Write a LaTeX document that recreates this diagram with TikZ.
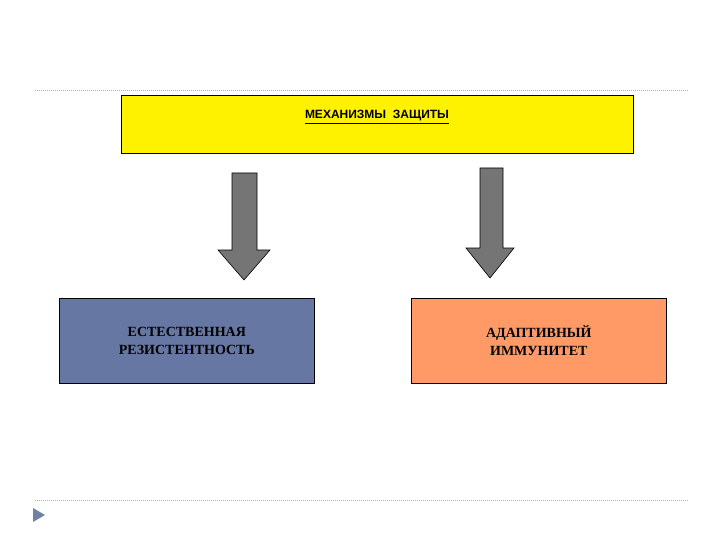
\documentclass[tikz,border=0pt]{standalone}
\usepackage{fontspec}
\setmainfont{Liberation Serif}
\newfontfamily\arialf{Liberation Sans}
\begin{document}
\begin{tikzpicture}[x=1pt,y=-1pt,
  box/.style={draw=black,line width=0.6pt,minimum height=58pt,inner sep=0pt},
  arr/.style={draw=black,fill=gray!80!black!90,line width=0.6pt},
  sep/.style={draw=gray!60,dash pattern=on 1pt off 1pt,line width=0.6pt}]
\useasboundingbox (0,0) rectangle (720,540);
\coordinate (l1a) at (35,90); \coordinate (l1b) at (688,90);
\coordinate (l2a) at (35,500); \coordinate (l2b) at (688,500);
\draw[sep] (l1a) -- (l1b);
\draw[sep] (l2a) -- (l2b);
\fill[fill={rgb,255:red,110;green,130;blue,165}] (33,508) -- (45,515) -- (33,522) -- cycle;
\node[box,fill=yellow,minimum width=512pt,minimum height=58pt,anchor=north west] (top) at (121,95) {};
\node[font=\arialf\bfseries\fontsize{12}{14}\selectfont,inner sep=0pt] (tt) at (377,116) {МЕХАНИЗМЫ\ \ ЗАЩИТЫ};
\draw[line width=0.7pt] ([yshift=-2pt]tt.south west) -- ([yshift=-2pt]tt.south east);
\draw[arr] (232,173) -- (257,173) -- (257,250) -- (270,250) -- (244,280) -- (218,250) -- (232,250) -- cycle;
\draw[arr] (480,168) -- (503,168) -- (503,248) -- (514,248) -- (490,278) -- (466,248) -- (480,248) -- cycle;
\node[box,fill={rgb,255:red,102;green,119;blue,163},minimum width=255pt,minimum height=85pt,anchor=north west,align=center,font=\bfseries\fontsize{14}{18}\selectfont] (lb) at (59,298) {ЕСТЕСТВЕННАЯ\\РЕЗИСТЕНТНОСТЬ};
\node[box,fill={rgb,255:red,255;green,153;blue,102},minimum width=255pt,minimum height=85pt,anchor=north west,align=center,font=\bfseries\fontsize{14}{18}\selectfont] (rb) at (411,298) {АДАПТИВНЫЙ\\ИММУНИТЕТ};
\end{tikzpicture}
\end{document}
